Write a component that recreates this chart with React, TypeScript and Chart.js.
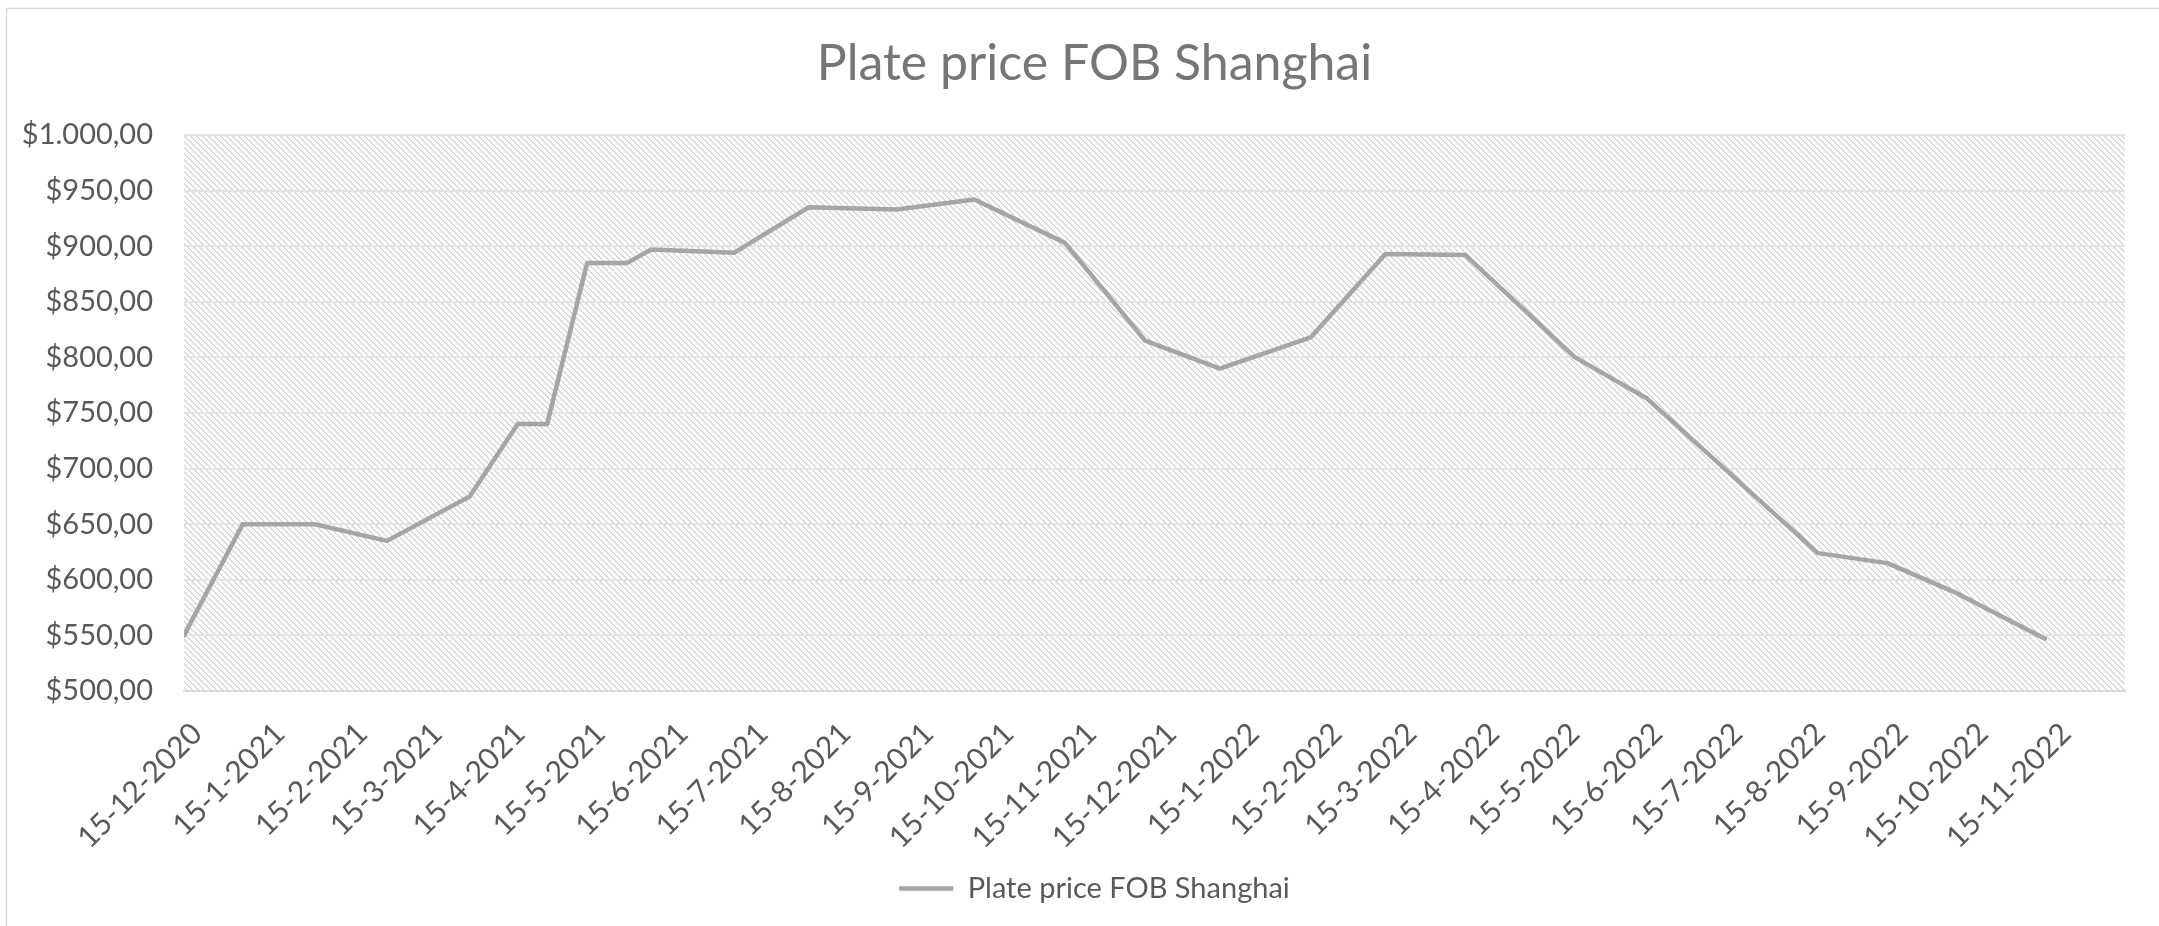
import React, { useEffect, useRef } from 'react';
import { Chart, registerables } from 'chart.js';

Chart.register(...registerables);

const chartTitle = 'Plate price FOB Shanghai';
const seriesName = 'Plate price FOB Shanghai';

const pointDates = [
  '15-12-2020', '6-1-2021', '2-2-2021', '1-3-2021', '1-4-2021', '19-4-2021', '30-4-2021',
  '15-5-2021', '30-5-2021', '8-6-2021', '9-7-2021', '6-8-2021', '8-9-2021', '7-10-2021',
  '10-11-2021', '10-12-2021', '7-1-2022', '10-2-2022', '10-3-2022', '9-4-2022', '20-5-2022',
  '16-6-2022', '15-7-2022', '19-8-2022', '14-9-2022', '10-10-2022', '12-11-2022',
];
const prices = [
  550, 650, 650, 635, 675, 740, 740,
  885, 885, 897, 894, 935, 933, 942,
  903, 815, 790, 818, 893, 892, 800,
  763, 700, 624, 615, 588, 547,
];

const tickLabels = [
  '15-12-2020', '15-1-2021', '15-2-2021', '15-3-2021', '15-4-2021', '15-5-2021',
  '15-6-2021', '15-7-2021', '15-8-2021', '15-9-2021', '15-10-2021', '15-11-2021',
  '15-12-2021', '15-1-2022', '15-2-2022', '15-3-2022', '15-4-2022', '15-5-2022',
  '15-6-2022', '15-7-2022', '15-8-2022', '15-9-2022', '15-10-2022', '15-11-2022',
];
const axisStart = '15-12-2020';
const axisEnd = '12-12-2022';
const yMin = 500;
const yMax = 1000;
const yStep = 50;

const dayOf = (s: string) => {
  const [d, m, y] = s.split('-').map(Number);
  const [d0, m0, y0] = axisStart.split('-').map(Number);
  return Math.round((Date.UTC(y, m - 1, d) - Date.UTC(y0, m0 - 1, d0)) / 86400000);
};

const money = (v: number) => {
  const [i, f] = v.toFixed(2).split('.');
  return '$' + i.replace(/\B(?=(\d{3})+(?!\d))/g, '.') + ',' + f;
};

const makePattern = () => {
  const s = 6;
  const c = document.createElement('canvas');
  c.width = s;
  c.height = s;
  const ctx = c.getContext('2d')!;
  const img = ctx.createImageData(s, s);
  for (let y = 0; y < s; y++) {
    for (let x = 0; x < s; x++) {
      const on = (((x - y) % s) + s) % s < 2;
      const v = on ? 217 : 255;
      const k = (y * s + x) * 4;
      img.data[k] = v;
      img.data[k + 1] = v;
      img.data[k + 2] = v;
      img.data[k + 3] = 255;
    }
  }
  ctx.putImageData(img, 0, 0);
  return c;
};

const backgroundPlugin = {
  id: 'bgHatch',
  beforeDraw(chart: any) {
    const { ctx, chartArea } = chart;
    ctx.save();
    ctx.fillStyle = '#ffffff';
    ctx.fillRect(0, 0, chart.width, chart.height);
    ctx.strokeStyle = '#d9d9d9';
    ctx.lineWidth = 1.5;
    ctx.strokeRect(6.5, 8.5, chart.width + 20, chart.height + 20);
    const pat = ctx.createPattern(makePattern(), 'repeat');
    ctx.fillStyle = pat;
    ctx.fillRect(chartArea.left, chartArea.top, chartArea.right - chartArea.left, chartArea.bottom - chartArea.top);
    ctx.restore();
  },
};

export default function App() {
  const ref = useRef<HTMLCanvasElement | null>(null);

  useEffect(() => {
    if (!ref.current) return;
    const tickDays = tickLabels.map(dayOf);
    const chart = new Chart(ref.current, {
      type: 'line',
      data: {
        datasets: [
          {
            label: seriesName,
            data: pointDates.map((d, i) => ({ x: dayOf(d), y: prices[i] })),
            borderColor: '#a5a5a5',
            backgroundColor: '#a5a5a5',
            borderWidth: 4.5,
            pointRadius: 0,
            tension: 0,
            borderCapStyle: 'round',
            borderJoinStyle: 'round',
          },
        ],
      },
      options: {
        responsive: false,
        animation: false,
        devicePixelRatio: 1,
        layout: { padding: { left: 20, right: -10, top: 0, bottom: 13 } },
        font: { family: 'Lato' },
        plugins: {
          title: {
            display: true,
            text: chartTitle,
            color: '#767676',
            font: { family: 'Lato', size: 50, weight: 'normal' },
            padding: { top: 34, bottom: 41 },
          },
          legend: {
            display: true,
            position: 'bottom',
            labels: {
              color: '#595959',
              font: { family: 'Lato', size: 29 },
              usePointStyle: true,
              pointStyle: 'line',
              pointStyleWidth: 54,
              padding: 9,
            },
          },
          tooltip: { enabled: false },
        },
        scales: {
          x: {
            type: 'linear',
            min: dayOf(axisStart),
            max: dayOf(axisEnd),
            grid: { display: false, drawTicks: false },
            border: { display: true, color: '#d9d9d9', width: 2 },
            afterBuildTicks: (scale: any) => {
              scale.ticks = tickDays.map((v) => ({ value: v }));
            },
            afterFit: (scale: any) => {
              scale.height = 174;
            },
            ticks: {
              autoSkip: false,
              maxRotation: 45,
              minRotation: 45,
              padding: 25,
              labelOffset: 13,
              color: '#595959',
              font: { family: 'Lato', size: 30 },
              callback: (_v: any, i: number) => tickLabels[i],
            },
          },
          y: {
            min: yMin,
            max: yMax,
            grid: { color: '#e4e4e4', lineWidth: 2, drawTicks: false },
            border: { display: false },
            afterFit: (scale: any) => {
              scale.width = 164;
            },
            ticks: {
              stepSize: yStep,
              padding: 31,
              color: '#595959',
              font: { family: 'Lato', size: 29 },
              callback: (v: any) => money(Number(v)),
            },
          },
          yRight: {
            type: 'linear',
            position: 'right',
            display: true,
            grid: { display: false, drawTicks: false },
            border: { display: false },
            ticks: { display: false },
            afterFit: (scale: any) => {
              scale.width = 44;
            },
          },
        },
      } as any,
      plugins: [backgroundPlugin],
    });
    return () => chart.destroy();
  }, []);

  return (
    <div style={{ position: 'fixed', left: 0, top: 0, width: 2159, height: 926, background: '#fff' }}>
      <canvas ref={ref} width={2159} height={926} style={{ width: 2159, height: 926, display: 'block' }} />
    </div>
  );
}
